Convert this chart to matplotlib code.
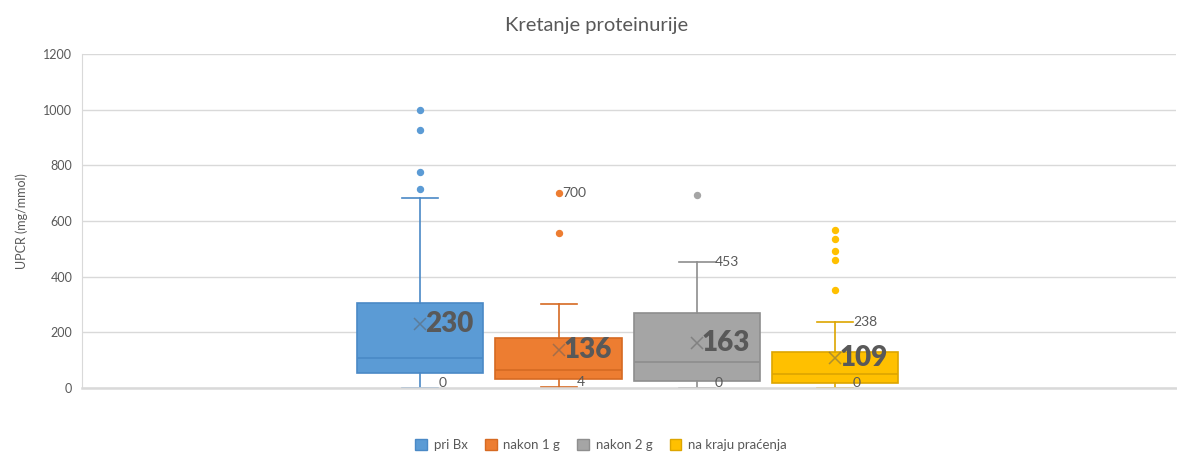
import matplotlib
matplotlib.use('Agg')
import matplotlib.pyplot as plt
from matplotlib.patches import Patch

plt.rcParams['font.family'] = ['Lato', 'DejaVu Sans']

# ---- data ----
series = ['pri Bx', 'nakon 1 g', 'nakon 2 g', 'na kraju praćenja']
q1 = [55, 32, 26, 19]
median = [108, 65, 95, 51]
q3 = [307, 181, 270, 130]
whislo = [0, 4, 0, 0]
whishi = [684, 303, 453, 238]
means = [230, 136, 163, 109]
outliers = [[1000, 927, 775, 716], [700, 558], [693], [567, 535, 491, 460, 352]]
show_whislo_label = [True, True, True, True]
show_whishi_label = [False, False, True, True]
show_outlier_label = [[False, False, False, False], [True, False], [False], [False] * 5]
yticks = [0, 200, 400, 600, 800, 1000, 1200]

fill = ['#5B9BD5', '#ED7D31', '#A5A5A5', '#FFC000']
edge = ['#4A89C6', '#D66A22', '#8E8E8E', '#DDA500']
txt = '#595959'

fig = plt.figure(figsize=(11.77, 4.67), dpi=100)
ax = fig.add_axes([82 / 1177, 79 / 467, 1094 / 1177, 334 / 467])

positions = [1, 2, 3, 4]
stats = []
for i in range(len(series)):
    stats.append(dict(med=median[i], q1=q1[i], q3=q3[i], whislo=whislo[i],
                      whishi=whishi[i], mean=means[i], fliers=outliers[i]))

bp = ax.bxp(stats, positions=positions, widths=0.913, capwidths=0.26,
            patch_artist=True, showmeans=True, showfliers=True, zorder=3)

for i in range(len(series)):
    b = bp['boxes'][i]
    b.set_facecolor(fill[i])
    b.set_edgecolor(edge[i])
    b.set_linewidth(1.2)
    bp['medians'][i].set_color(edge[i])
    bp['medians'][i].set_linewidth(1.2)
    for w in bp['whiskers'][2 * i:2 * i + 2]:
        w.set_color(edge[i]); w.set_linewidth(1.2)
    for c in bp['caps'][2 * i:2 * i + 2]:
        c.set_color(edge[i]); c.set_linewidth(1.2)
    f = bp['fliers'][i]
    f.set_marker('o'); f.set_markerfacecolor(fill[i]); f.set_markeredgecolor(fill[i])
    f.set_markersize(4.3)
    m = bp['means'][i]
    m.set_marker('x'); m.set_markeredgecolor('#5f5f5f'); m.set_alpha(0.5)
    m.set_markersize(9); m.set_markeredgewidth(1.1)

    p = positions[i]
    ax.annotate(str(means[i]), (p, means[i]), xytext=(5, 0), textcoords='offset pixels',
                ha='left', va='center', fontsize=20, fontweight='heavy', color=txt, zorder=5)
    if show_whislo_label[i]:
        ax.annotate(str(whislo[i]), (p, whislo[i]), xytext=(18, -1), textcoords='offset pixels',
                    ha='left', va='bottom', fontsize=10, color=txt, zorder=5)
    if show_whishi_label[i]:
        ax.annotate(str(whishi[i]), (p, whishi[i]), xytext=(18, 0), textcoords='offset pixels',
                    ha='left', va='center', fontsize=10, color=txt, zorder=5)
    for v, s in zip(outliers[i], show_outlier_label[i]):
        if s:
            ax.annotate(str(v), (p, v), xytext=(4, 0), textcoords='offset pixels',
                        ha='left', va='center', fontsize=10, color=txt, zorder=5)

ax.set_xlim(-1.45, 6.47)
ax.set_ylim(0, 1200)
ax.set_yticks(yticks)
ax.set_yticklabels([str(t) for t in yticks])
ax.set_xticks([])
ax.yaxis.grid(True, color='#D9D9D9', linewidth=1)
ax.set_axisbelow(True)
for s in ['top', 'right']:
    ax.spines[s].set_visible(False)
ax.spines['left'].set_color('#D9D9D9')
ax.spines['bottom'].set_color('#D9D9D9')
ax.spines['bottom'].set_linewidth(1.8)
ax.spines['bottom'].set_zorder(4)
ax.tick_params(axis='y', length=0, pad=7, labelsize=9, labelcolor=txt)
ax.set_ylabel('UPCR (mg/mmol)', fontsize=9, color=txt)
ax.yaxis.set_label_coords(-54 / 1094, 0.5)

fig.text(597 / 1177, 1 - 25 / 467, 'Kretanje proteinurije', ha='center', va='center',
         fontsize=14.5, color=txt)

handles = [Patch(facecolor=fill[i], edgecolor=edge[i], label=series[i]) for i in range(len(series))]
fig.legend(handles=handles, loc='center', bbox_to_anchor=(601 / 1177, 1 - 445 / 467), ncol=4,
           frameon=False, fontsize=9.5, labelcolor=txt, handlelength=0.9, handleheight=0.9,
           handletextpad=0.5, columnspacing=1.3)

fig.savefig('out.png', dpi=100)
